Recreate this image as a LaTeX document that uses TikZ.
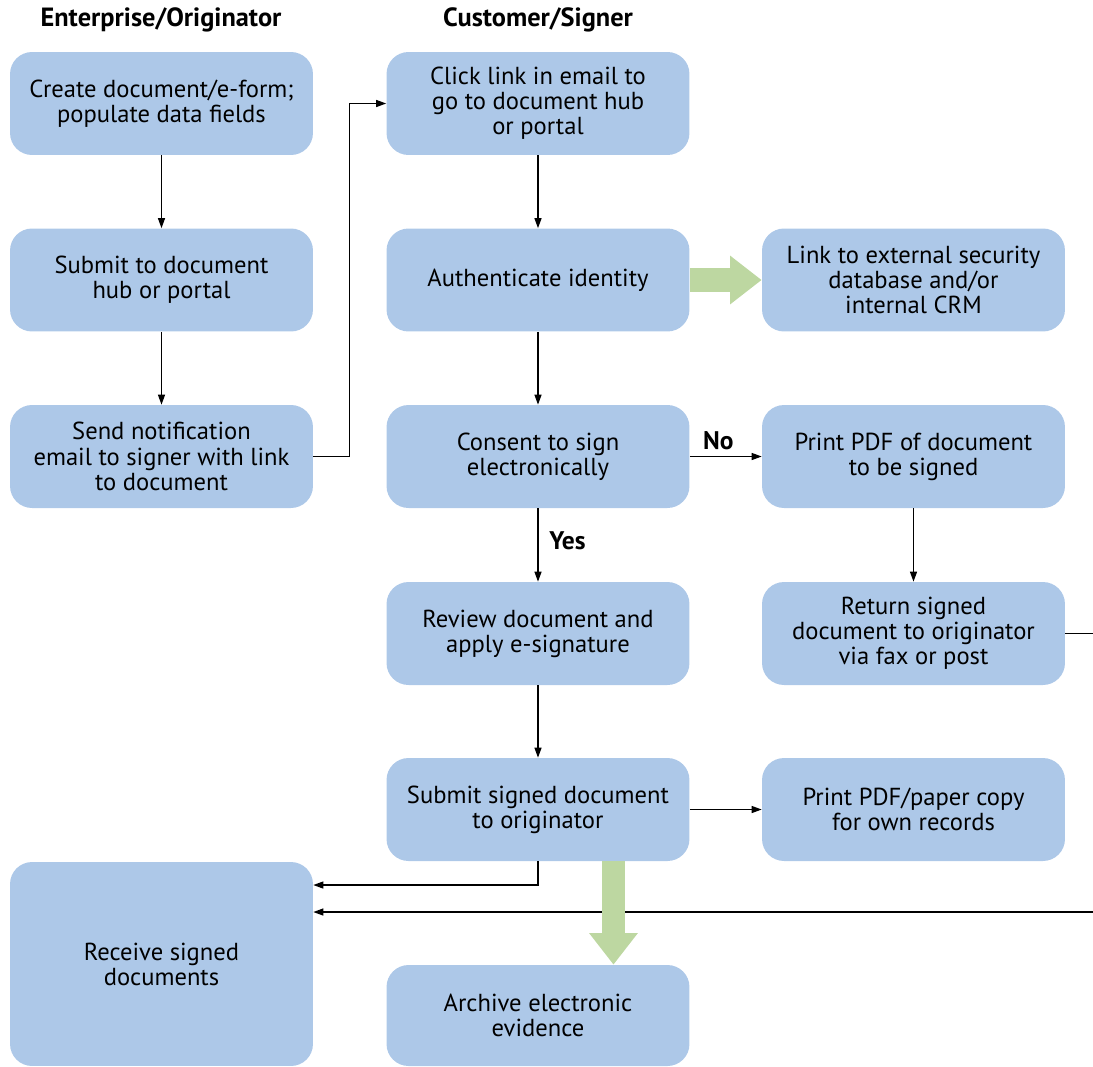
\documentclass[tikz,border=0pt]{standalone}
\usepackage{fontspec}
\setmainfont{PT Sans}
\usetikzlibrary{arrows.meta}
\definecolor{boxblue}{RGB}{173,200,232}
\definecolor{arrowgreen}{RGB}{189,215,161}
\begin{document}
\begin{tikzpicture}[x=0.02cm,y=-0.02cm,
    stepbox/.style={fill=boxblue,rounded corners=0.44cm,minimum width=6.06cm,minimum height=2.06cm,
        inner sep=0pt,align=center,font=\fontsize{14}{14.3}\selectfont},
    header/.style={font=\bfseries\fontsize{15}{16}\selectfont},
    lbl/.style={font=\bfseries\fontsize{14.5}{15}\selectfont},
    conn/.style={line width=0.7pt,-{Triangle[length=0.2cm,width=0.14cm]}},
    bigarrow/.style={arrowgreen,line width=0.47cm,-{Triangle[length=0.63cm,width=0.93cm]}}]
    \useasboundingbox (0,0) rectangle (1093,1066);
    \node[header] (hEnt) at (161,20) {Enterprise/Originator};
    \node[header] (hCust) at (538,20) {Customer/Signer};
    \node[stepbox] (create) at (161.5,103.5) {Create document/e-form;\\populate data fields};
    \node[stepbox] (submit) at (161.5,280) {Submit to document\\hub or portal};
    \node[stepbox] (notify) at (161.5,456.5) {Send notification\\email to signer with link\\to document};
    \node[stepbox,minimum height=4.08cm] (receive) at (161.5,964) {Receive signed\\documents};
    \node[stepbox] (click) at (538,103.5) {Click link in email to\\go to document hub\\or portal};
    \node[stepbox] (auth) at (538,280) {Authenticate identity};
    \node[stepbox] (consent) at (538,456.5) {Consent to sign\\electronically};
    \node[stepbox] (review) at (538,633.5) {Review document and\\apply e-signature};
    \node[stepbox] (signed) at (538,809.5) {Submit signed document\\to originator};
    \node[stepbox,minimum height=2.02cm] (archive) at (538,1015.5) {Archive electronic\\evidence};
    \node[stepbox] (security) at (913.5,280) {Link to external security\\database and/or\\internal CRM};
    \node[stepbox] (printpdf) at (913.5,456.5) {Print PDF of document\\to be signed};
    \node[stepbox] (return) at (913.5,633.5) {Return signed\\document to originator\\via fax or post};
    \node[stepbox] (copy) at (913.5,809.5) {Print PDF/paper copy\\for own records};
    \draw[conn] (create) -- (submit);
    \draw[conn] (submit) -- (notify);
    \draw[conn] (notify.east) -- ++(36,0) |- (click.west);
    \draw[conn] (click) -- (auth);
    \draw[conn] (auth) -- (consent);
    \draw[conn] (consent) -- node[lbl,above,xshift=-0.15cm] {No} (printpdf);
    \draw[conn] (consent) -- node[lbl,right,xshift=0.1cm,yshift=0.08cm] {Yes} (review);
    \draw[conn] (printpdf) -- (return);
    \draw[conn] (review) -- (signed);
    \draw[conn] (signed) -- (copy);
    \draw[conn] (signed.south) |- ([yshift=1.58cm]receive.east);
    \draw[conn] (return.east) -- ++(60,0) |- ([yshift=1.04cm]receive.east);
    \draw[bigarrow] (auth.east) -- (security.west);
    \draw[bigarrow] ([xshift=1.51cm]signed.south) -- ([xshift=1.51cm]archive.north);
\end{tikzpicture}
\end{document}
